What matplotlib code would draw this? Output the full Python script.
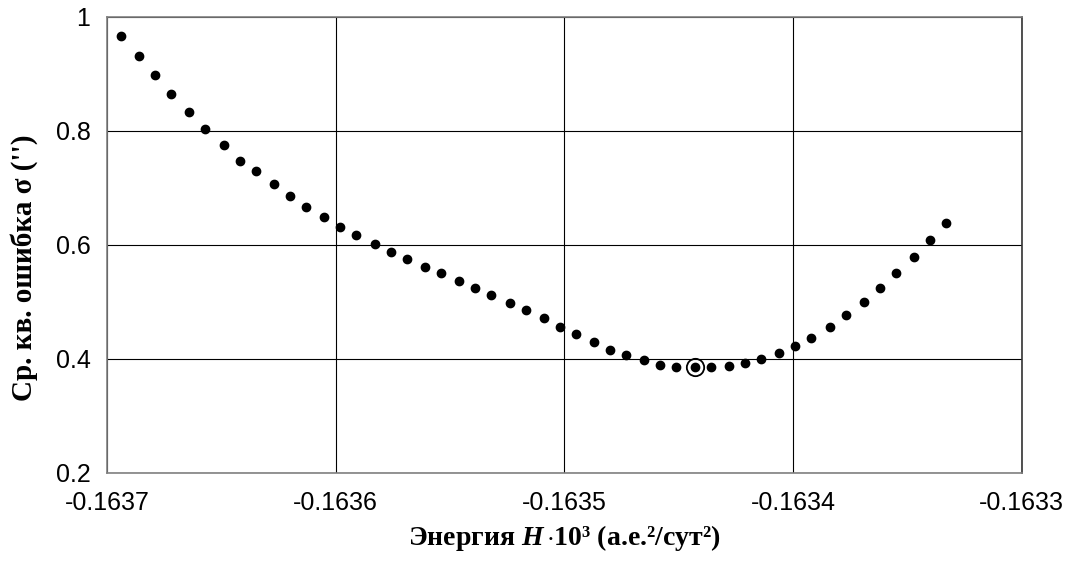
import numpy as np
import matplotlib
matplotlib.use("Agg")
import matplotlib.pyplot as plt
from matplotlib.ticker import FixedLocator, FuncFormatter

plt.rcParams['axes.unicode_minus'] = False
plt.rcParams['mathtext.fontset'] = 'custom'
plt.rcParams['mathtext.rm'] = 'Liberation Serif:bold'
plt.rcParams['mathtext.bf'] = 'Liberation Serif:bold'
plt.rcParams['mathtext.it'] = 'Liberation Serif:italic:bold'
plt.rcParams['mathtext.bfit'] = 'Liberation Serif:italic:bold'

# Energiya H*10^3 (a.e.^2/sut^2)
energy = np.array([
    -0.163694, -0.163686, -0.163679, -0.163672, -0.163664, -0.163657,
    -0.163649, -0.163642, -0.163635, -0.163627, -0.163620, -0.163613,
    -0.163605, -0.163598, -0.163591, -0.163583, -0.163576, -0.163569,
    -0.163561, -0.163554, -0.163546, -0.163539, -0.163532, -0.163524,
    -0.163517, -0.163509, -0.163502, -0.163495, -0.163487, -0.163480,
    -0.163473, -0.163465, -0.163458, -0.163451, -0.163443, -0.163436,
    -0.163428, -0.163421, -0.163414, -0.163406, -0.163399, -0.163392,
    -0.163384, -0.163377, -0.163369, -0.163362, -0.163355, -0.163347,
    -0.163340, -0.163333])

# srednyaya kv. oshibka sigma (")
sigma = np.array([
    0.967, 0.932, 0.898, 0.864, 0.833, 0.804,
    0.775, 0.747, 0.729, 0.706, 0.686, 0.667,
    0.649, 0.632, 0.617, 0.602, 0.588, 0.575,
    0.562, 0.550, 0.537, 0.525, 0.512, 0.498,
    0.485, 0.471, 0.456, 0.443, 0.429, 0.416,
    0.406, 0.398, 0.390, 0.385, 0.385, 0.385,
    0.388, 0.393, 0.400, 0.410, 0.422, 0.437,
    0.456, 0.477, 0.499, 0.524, 0.551, 0.579,
    0.609, 0.639])

best_idx = 34  # obvedennaya tochka (minimum)

x_ticks = [-0.1637, -0.1636, -0.1635, -0.1634, -0.1633]
y_ticks = [0.2, 0.4, 0.6, 0.8, 1.0]
y_tick_labels = ['0.2', '0.4', '0.6', '0.8', '1']

fig = plt.figure(figsize=(10.77, 5.61), dpi=100)
ax = fig.add_axes([0.0994, 0.1569, 0.8493, 0.8133])

ax.plot(energy, sigma, 'o', color='black', markersize=6, zorder=3)
ax.plot(energy[best_idx], sigma[best_idx], 'o', markerfacecolor='none',
        markeredgecolor='black', markersize=12.5, markeredgewidth=1.3, zorder=4)

ax.set_xlim(-0.1637, -0.1633)
ax.set_ylim(0.2, 1.0)
ax.xaxis.set_major_locator(FixedLocator(x_ticks))
ax.yaxis.set_major_locator(FixedLocator(y_ticks))
ax.xaxis.set_major_formatter(FuncFormatter(lambda v, p: f'{v:.4f}'))
ax.set_yticklabels(y_tick_labels)

ax.grid(True, color='black', linewidth=0.8)
ax.set_axisbelow(True)
for s in ax.spines.values():
    s.set_color('#808080')
    s.set_linewidth(1.2)
ax.spines['right'].set_color('#333333')

ax.tick_params(length=0, labelsize=18)
ax.tick_params(axis='x', pad=13)
ax.tick_params(axis='y', pad=12)
for lbl in ax.get_xticklabels() + ax.get_yticklabels():
    lbl.set_fontfamily('Liberation Sans')

fig.text(0.5237, 0.041, r'Энергия $\mathbfit{H}\,{\cdot}$10³ (а.е.²/сут²)',
         fontfamily='Liberation Serif', fontweight='bold', fontsize=20,
         ha='center', va='center')
fig.text(0.0223, 0.523, "Ср. кв. ошибка σ ('')",
         fontfamily='Liberation Serif', fontweight='bold', fontsize=21,
         rotation=90, ha='center', va='center')

fig.savefig('out.png', dpi=100)
